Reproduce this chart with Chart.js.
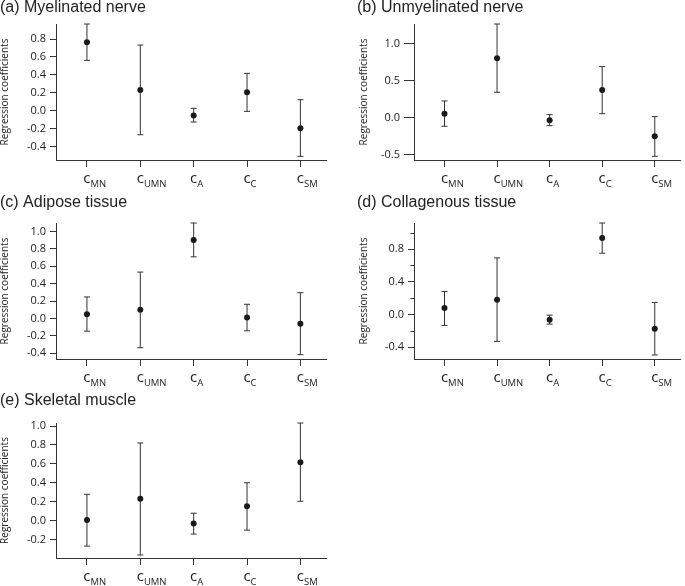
<!DOCTYPE html>
<html>
<head>
<meta charset="utf-8">
<script src="https://cdn.jsdelivr.net/npm/chart.js@4.4.1/dist/chart.umd.min.js"></script>
<style>
  html, body { margin: 0; padding: 0; background: #fff; }
  #wrap { position: relative; width: 685px; height: 586px; overflow: hidden; }
  #wrap canvas { position: absolute; }
</style>
</head>
<body>
<div id="wrap">
  <canvas id="panelA" width="340" height="200" style="left:0px;top:0px"></canvas>
  <canvas id="panelB" width="345" height="200" style="left:340px;top:0px"></canvas>
  <canvas id="panelC" width="340" height="205" style="left:0px;top:190px"></canvas>
  <canvas id="panelD" width="345" height="205" style="left:340px;top:190px"></canvas>
  <canvas id="panelE" width="340" height="201" style="left:0px;top:385px"></canvas>
</div>
<script>
// categories: "c" with these subscripts
const subscripts = ["MN", "UMN", "A", "C", "SM"];

// (a) Myelinated nerve
const myelinVal = [0.763, 0.231, -0.052, 0.205, -0.197];
const myelinHi = [0.968, 0.733, 0.027, 0.417, 0.123];
const myelinLo = [0.562, -0.268, -0.126, -0.007, -0.509];
const myelinTicks = [-0.4, -0.2, 0, 0.2, 0.4, 0.6, 0.8];

// (b) Unmyelinated nerve
const unmyelinVal = [0.058, 0.806, -0.032, 0.378, -0.248];
const unmyelinHi = [0.23, 1.27, 0.045, 0.694, 0.018];
const unmyelinLo = [-0.112, 0.347, -0.104, 0.058, -0.518];
const unmyelinTicks = [-0.5, 0, 0.5, 1.0];

// (c) Adipose tissue
const adiposeVal = [0.05, 0.10, 0.904, 0.011, -0.061];
const adiposeHi = [0.248, 0.534, 1.098, 0.164, 0.297];
const adiposeLo = [-0.145, -0.335, 0.709, -0.141, -0.415];
const adiposeTicks = [-0.4, -0.2, 0, 0.2, 0.4, 0.6, 0.8, 1.0];

// (d) Collagenous tissue
const collagenVal = [0.077, 0.179, -0.066, 0.938, -0.176];
const collagenHi = [0.282, 0.693, -0.009, 1.121, 0.147];
const collagenLo = [-0.135, -0.331, -0.119, 0.75, -0.498];
const collagenTicks = [-0.4, 0, 0.4, 0.8];
const collagenMinor = [-0.2, 0.2, 0.6, 1.0];

// (e) Skeletal muscle
const skeletalVal = [0.007, 0.232, -0.032, 0.151, 0.618];
const skeletalHi = [0.278, 0.821, 0.078, 0.40, 1.032];
const skeletalLo = [-0.27, -0.364, -0.143, -0.101, 0.204];
const skeletalTicks = [-0.2, 0, 0.2, 0.4, 0.6, 0.8, 1.0];

const INK = "#333";
const TICK_FONT = '"Open Sans", "DejaVu Sans", sans-serif';

// draws panel title, subscripted category labels, and minor y ticks
const panelDecor = {
  id: "panelDecor",
  afterDraw(chart, args, opts) {
    const ctx = chart.ctx;
    const xs = chart.scales.x, ys = chart.scales.y;
    const area = chart.chartArea;
    ctx.save();
    ctx.fillStyle = "#222";
    ctx.font = '16px "Liberation Sans", Arial, sans-serif';
    ctx.textAlign = "left";
    ctx.textBaseline = "alphabetic";
    ctx.fillText(opts.title, opts.titleX, opts.titleY);

    const base = area.bottom + opts.labelGap;
    subscripts.forEach((sub, i) => {
      const px = xs.getPixelForValue(i);
      ctx.font = "15px " + TICK_FONT;
      const cw = ctx.measureText("c").width;
      ctx.textAlign = "center";
      ctx.fillText("c", px, base);
      ctx.font = "9.5px " + TICK_FONT;
      ctx.textAlign = "left";
      ctx.fillText(sub, px + cw / 2, base + 4);
    });

    if (opts.minor) {
      ctx.strokeStyle = INK;
      ctx.lineWidth = 1;
      opts.minor.forEach(v => {
        const py = Math.round(ys.getPixelForValue(v)) + 0.5;
        ctx.beginPath();
        ctx.moveTo(area.left - 3.5, py);
        ctx.lineTo(area.left, py);
        ctx.stroke();
      });
    }
    ctx.restore();
  }
};

function makePanel(id, p) {
  const pts = p.val.map((v, i) => ({ x: i, y: v }));
  const stems = [];
  p.val.forEach((v, i) => {
    stems.push({ x: i, y: p.lo[i] }, { x: i, y: p.hi[i] }, { x: i, y: null });
  });
  const canvas = document.getElementById(id);
  const W = canvas.width, H = canvas.height;

  new Chart(canvas, {
    type: "scatter",
    data: {
      datasets: [
        {
          data: pts, order: 0, clip: false,
          pointStyle: "circle", pointRadius: 3,
          pointBackgroundColor: "#1a1a1a", pointBorderWidth: 0
        },
        {
          data: p.hi.map((v, i) => ({ x: i, y: v })), order: 1, clip: false,
          pointStyle: "line", pointRadius: 3,
          pointBorderColor: INK, pointBorderWidth: 1
        },
        {
          data: p.lo.map((v, i) => ({ x: i, y: v })), order: 1, clip: false,
          pointStyle: "line", pointRadius: 3,
          pointBorderColor: INK, pointBorderWidth: 1
        },
        {
          data: stems, order: 2, clip: false,
          showLine: true, spanGaps: false, pointRadius: 0,
          borderColor: INK, borderWidth: 1
        }
      ]
    },
    options: {
      responsive: false,
      animation: false,
      events: [],
      layout: {
        padding: { left: 0, top: p.top, right: W - p.right, bottom: 0 }
      },
      plugins: {
        legend: { display: false },
        tooltip: { enabled: false },
        panelDecor: {
          title: p.title, titleX: p.titleX, titleY: p.titleY,
          labelGap: p.labelGap, minor: p.minor
        }
      },
      scales: {
        x: {
          type: "linear",
          min: -0.58, max: 4.48,
          offset: false,
          afterBuildTicks: s => { s.ticks = subscripts.map((c, i) => ({ value: i })); },
          afterFit: s => { s.height = H - p.bottom; },
          ticks: { display: false },
          grid: { drawOnChartArea: false, drawTicks: true, tickLength: 7, tickColor: INK, offset: false },
          border: { display: true, color: INK, width: 1 }
        },
        y: {
          type: "linear",
          min: p.yMin, max: p.yMax,
          beginAtZero: false,
          afterBuildTicks: s => { s.ticks = p.ticks.map(v => ({ value: v })); },
          afterFit: s => { s.width = p.left; },
          ticks: {
            padding: 4,
            color: "#222",
            font: { family: TICK_FONT, size: 11 },
            callback: v => v.toFixed(1)
          },
          title: {
            display: true,
            text: "Regression coefficients",
            color: "#222",
            font: { family: TICK_FONT, size: 10, lineHeight: 1 },
            padding: { top: p.yTitlePad, bottom: 0 }
          },
          grid: { drawOnChartArea: false, drawTicks: true, tickLength: p.tickLen, tickColor: INK },
          border: { display: true, color: INK, width: 1 }
        }
      }
    },
    plugins: [panelDecor]
  });
}

makePanel("panelA", {
  title: "(a) Myelinated nerve", titleX: 0, titleY: 12,
  val: myelinVal, hi: myelinHi, lo: myelinLo, ticks: myelinTicks,
  yMin: -0.55, yMax: 0.968,
  left: 56, top: 24, right: 326, bottom: 160,
  tickLen: 6, yTitlePad: 0, labelGap: 23
});

makePanel("panelB", {
  title: "(b) Unmyelinated nerve", titleX: 17, titleY: 12,
  val: unmyelinVal, hi: unmyelinHi, lo: unmyelinLo, ticks: unmyelinTicks,
  yMin: -0.568, yMax: 1.27,
  left: 74, top: 24, right: 344, bottom: 160,
  tickLen: 10, yTitlePad: 19, labelGap: 23
});

makePanel("panelC", {
  title: "(c) Adipose tissue", titleX: 0, titleY: 17,
  val: adiposeVal, hi: adiposeHi, lo: adiposeLo, ticks: adiposeTicks,
  yMin: -0.465, yMax: 1.098,
  left: 56, top: 33, right: 326, bottom: 169,
  tickLen: 6, yTitlePad: 0, labelGap: 23
});

makePanel("panelD", {
  title: "(d) Collagenous tissue", titleX: 17, titleY: 17,
  val: collagenVal, hi: collagenHi, lo: collagenLo, ticks: collagenTicks,
  minor: collagenMinor,
  yMin: -0.547, yMax: 1.121,
  left: 74, top: 33, right: 344, bottom: 169,
  tickLen: 6, yTitlePad: 19, labelGap: 23
});

makePanel("panelE", {
  title: "(e) Skeletal muscle", titleX: 0, titleY: 20,
  val: skeletalVal, hi: skeletalHi, lo: skeletalLo, ticks: skeletalTicks,
  yMin: -0.396, yMax: 1.032,
  left: 56, top: 38, right: 326, bottom: 173,
  tickLen: 6, yTitlePad: 0, labelGap: 23
});
</script>
</body>
</html>
